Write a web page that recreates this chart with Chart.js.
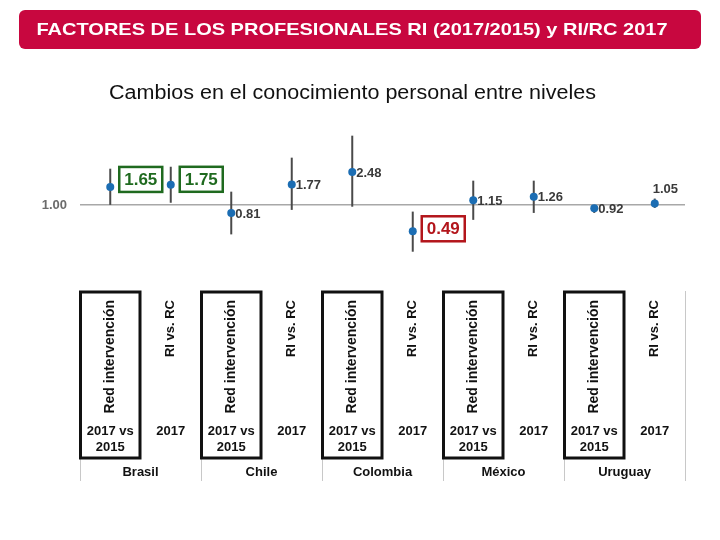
<!DOCTYPE html>
<html>
<head>
<meta charset="utf-8">
<script src="https://cdn.jsdelivr.net/npm/chart.js@4.4.1/dist/chart.umd.min.js"></script>
<style>
  html, body { margin: 0; padding: 0; background: #fff; }
  #wrap { width: 720px; height: 540px; position: relative; }
</style>
</head>
<body>
<div id="wrap"><canvas id="chart"></canvas></div>
<script>
const FONT = "'Liberation Sans', Arial, sans-serif";

const countries = ['Brasil', 'Chile', 'Colombia', 'México', 'Uruguay'];
const comparisons = ['Red intervención', 'RI vs. RC'];
const periods = [['2017 vs', '2015'], ['2017']];

const values = [1.65, 1.75, 0.81, 1.77, 2.48, 0.49, 1.15, 1.26, 0.92, 1.05];
const lower  = [1.01, 1.07, 0.45, 0.88, 0.96, 0.28, 0.67, 0.81, 0.81, 0.93];
const upper  = [2.72, 2.87, 1.45, 3.68, 6.72, 0.84, 1.96, 1.96, 0.99, 1.20];

const yTicks = [1];

const labels = [];
countries.forEach(c => comparisons.forEach(k => labels.push(c + ' - ' + k)));

// highlighted values (boxed labels)
const boxed = {
  0: { color: '#1f6a1f', dy: -7.5 },
  1: { color: '#1f6a1f', dy: -5.5 },
  5: { color: '#b3151b', dy: -2.5 }
};

function fitText(ctx, text, cx, cy, width, font, color) {
  ctx.save();
  ctx.font = font;
  ctx.fillStyle = color;
  ctx.textAlign = 'center';
  ctx.textBaseline = 'middle';
  const w = ctx.measureText(text).width;
  ctx.translate(cx, cy);
  ctx.scale(width / w, 1);
  ctx.fillText(text, 0, 0);
  ctx.restore();
}

const background = {
  id: 'background',
  beforeDraw(chart) {
    const ctx = chart.ctx;
    ctx.save();
    ctx.fillStyle = '#fff';
    ctx.fillRect(0, 0, chart.width, chart.height);
    // title banner
    ctx.fillStyle = '#c8073f';
    ctx.beginPath();
    ctx.roundRect(19, 10, 682, 39, 6);
    ctx.fill();
    fitText(ctx, 'FACTORES DE LOS PROFESIONALES RI (2017/2015) y RI/RC 2017', 352, 30, 631, 'bold 17px ' + FONT, '#fff');
    fitText(ctx, 'Cambios en el conocimiento personal entre niveles', 352.5, 94, 487, '19.5px ' + FONT, '#111');
    ctx.restore();
  }
};

const errorBars = {
  id: 'errorBars',
  beforeDatasetsDraw(chart) {
    const { ctx, scales: { x, y } } = chart;
    ctx.save();
    ctx.strokeStyle = '#4a4a4a';
    ctx.lineWidth = 2;
    values.forEach((v, i) => {
      const px = x.getPixelForValue(i);
      ctx.beginPath();
      ctx.moveTo(px, y.getPixelForValue(upper[i]));
      ctx.lineTo(px, y.getPixelForValue(lower[i]));
      ctx.stroke();
    });
    ctx.restore();
  }
};

const valueLabels = {
  id: 'valueLabels',
  afterDatasetsDraw(chart) {
    const ctx = chart.ctx;
    const pts = chart.getDatasetMeta(0).data;
    ctx.save();
    ctx.textBaseline = 'middle';
    pts.forEach((p, i) => {
      const txt = values[i].toFixed(2);
      const b = boxed[i];
      if (b) {
        const cy = p.y + b.dy;
        ctx.lineWidth = 2.5;
        ctx.strokeStyle = b.color;
        ctx.strokeRect(p.x + 9, cy - 12.5, 43, 25);
        ctx.font = 'bold 17px ' + FONT;
        ctx.fillStyle = b.color;
        ctx.textAlign = 'center';
        ctx.fillText(txt, p.x + 30.5, cy + 1);
      } else if (i === values.length - 1) {
        ctx.font = 'bold 13px ' + FONT;
        ctx.fillStyle = '#3a3a3a';
        ctx.textAlign = 'left';
        ctx.fillText(txt, p.x - 2, p.y - 14);
      } else {
        ctx.font = 'bold 13px ' + FONT;
        ctx.fillStyle = '#3a3a3a';
        ctx.textAlign = 'left';
        ctx.fillText(txt, p.x + 4, p.y + 1);
      }
    });
    ctx.restore();
  }
};

const table = {
  id: 'table',
  afterDraw(chart) {
    const { ctx, scales: { x } } = chart;
    const cellW = x.getPixelForValue(1) - x.getPixelForValue(0);
    ctx.save();
    // group separators
    ctx.strokeStyle = '#c8c8c8';
    ctx.lineWidth = 1;
    for (let g = 0; g <= countries.length; g++) {
      const bx = Math.round(x.getPixelForValue(g * 2) - cellW / 2) + 0.5;
      ctx.beginPath();
      ctx.moveTo(bx, 291);
      ctx.lineTo(bx, 481);
      ctx.stroke();
    }
    labels.forEach((lab, i) => {
      const cx = x.getPixelForValue(i);
      const k = i % 2;
      if (k === 0) {
        ctx.strokeStyle = '#111';
        ctx.lineWidth = 3;
        ctx.strokeRect(cx - cellW / 2 + 0.5, 292, cellW - 1, 166);
      }
      ctx.fillStyle = '#111';
      // rotated comparison label
      ctx.save();
      ctx.font = (k === 0 ? 'bold 14px ' : 'bold 13px ') + FONT;
      ctx.translate(cx, 300);
      ctx.rotate(-Math.PI / 2);
      ctx.textAlign = 'right';
      ctx.textBaseline = 'middle';
      ctx.fillText(comparisons[k], 0, 0);
      ctx.restore();
      // period
      ctx.font = 'bold 13px ' + FONT;
      ctx.textAlign = 'center';
      ctx.textBaseline = 'middle';
      periods[k].forEach((t, j) => ctx.fillText(t, cx, 431 + j * 16));
    });
    countries.forEach((c, g) => {
      const cx = (x.getPixelForValue(g * 2) + x.getPixelForValue(g * 2 + 1)) / 2;
      ctx.fillText(c, cx, 472);
    });
    ctx.restore();
  }
};

new Chart(document.getElementById('chart'), {
  type: 'line',
  data: {
    labels: labels,
    datasets: [{
      data: values,
      showLine: false,
      pointRadius: 4,
      pointBackgroundColor: '#1b6db3',
      pointBorderWidth: 0
    }]
  },
  options: {
    responsive: true,
    maintainAspectRatio: false,
    animation: false,
    layout: { padding: { left: 0, right: 35, top: 125, bottom: 276 } },
    plugins: {
      legend: { display: false },
      tooltip: { enabled: false }
    },
    scales: {
      x: { display: false, offset: true },
      y: {
        type: 'logarithmic',
        min: 0.2,
        max: 9,
        afterBuildTicks: s => { s.ticks = yTicks.map(v => ({ value: v })); },
        afterFit: s => { s.width = 80; },
        border: { display: false },
        grid: { color: '#a8a8a8', lineWidth: 1.5, drawTicks: false },
        ticks: {
          padding: 13,
          color: '#6b6b6b',
          font: { family: FONT, size: 13, weight: 'bold' },
          callback: v => Number(v).toFixed(2)
        }
      }
    }
  },
  plugins: [background, errorBars, valueLabels, table]
});
</script>
</body>
</html>
